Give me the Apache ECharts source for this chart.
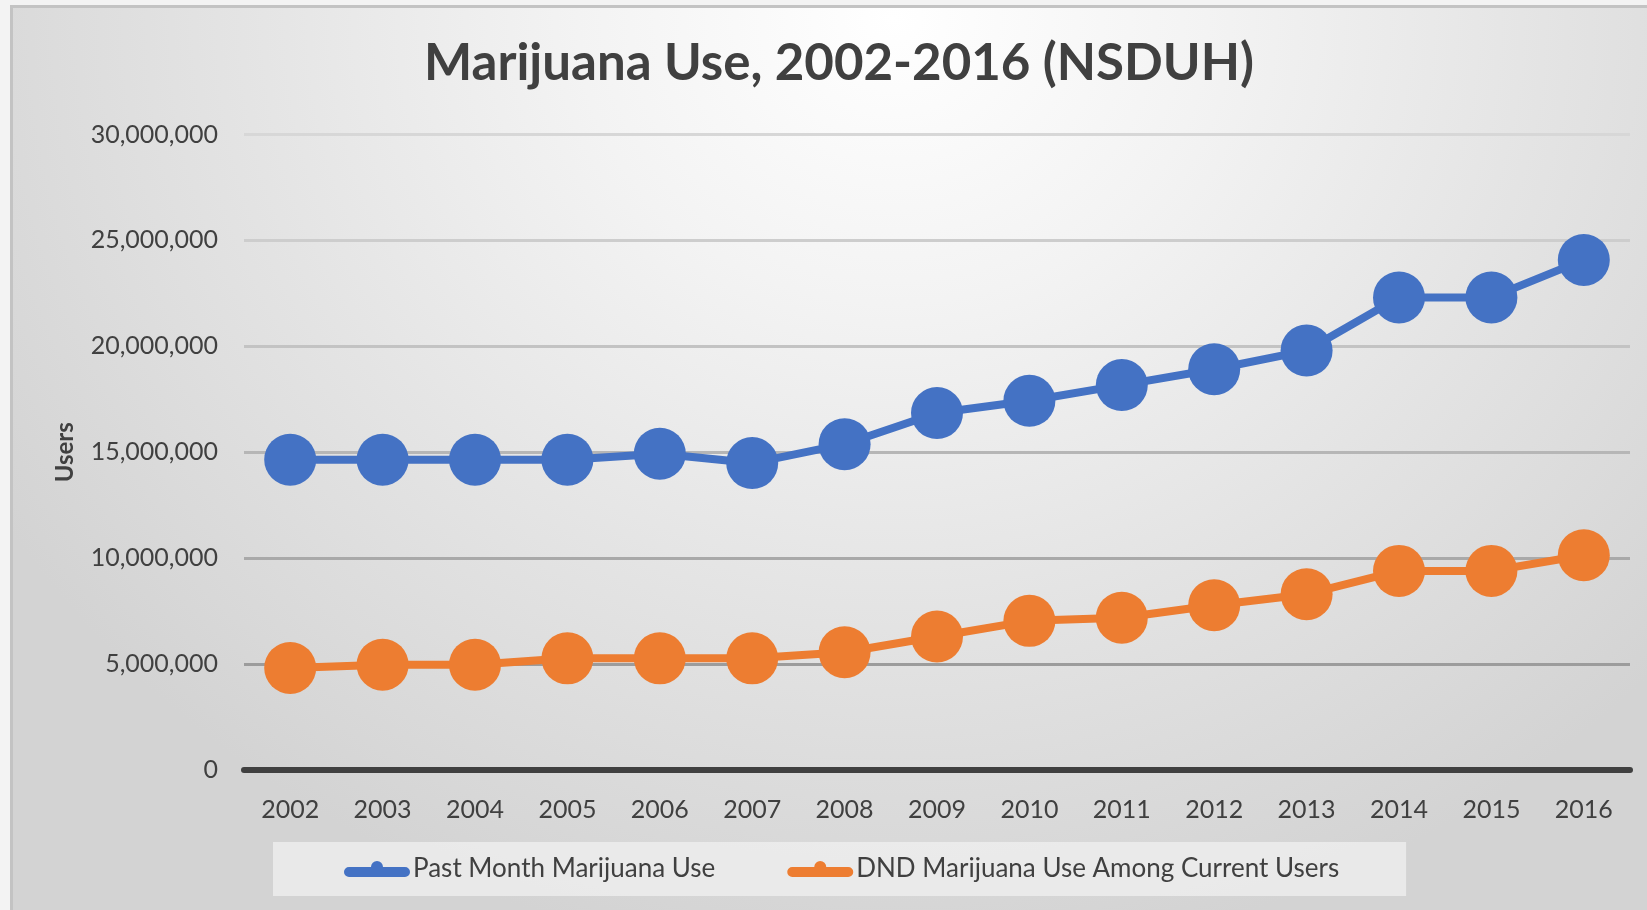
<!DOCTYPE html>
<html>
<head>
<meta charset="utf-8">
<script src="https://cdn.jsdelivr.net/npm/echarts@6/dist/echarts.min.js"></script>
<style>
  html, body { margin: 0; padding: 0; width: 1647px; height: 910px; overflow: hidden; background: #f3f3f3; }
  #frame {
    position: absolute; left: 10px; top: 5px; width: 1660px; height: 920px;
    border-left: 3px solid #c3c3c3; border-top: 3px solid #c3c3c3;
    background: radial-gradient(ellipse 1050px 950px at 880px 10px, #ffffff 0%, #f3f3f3 30%, #e4e4e4 62%, #d3d3d3 100%);
  }
  #chart { position: absolute; left: 0; top: 0; width: 1647px; height: 910px; }
</style>
</head>
<body>
<div id="frame"></div>
<div id="chart"></div>
<script>
// Survey years on the category axis
const years = ['2002', '2003', '2004', '2005', '2006', '2007', '2008', '2009',
               '2010', '2011', '2012', '2013', '2014', '2015', '2016'];

// Past-month marijuana users
const pastMonthUse = [14650000, 14650000, 14650000, 14650000, 14930000, 14490000, 15380000,
                      16850000, 17430000, 18170000, 18920000, 19800000, 22310000, 22310000, 24080000];

// Daily or near-daily use among current users
const dndUse = [4820000, 4970000, 4970000, 5270000, 5270000, 5270000, 5560000,
                6300000, 7040000, 7190000, 7780000, 8300000, 9400000, 9400000, 10140000];

const seriesNames = ['Past Month Marijuana Use', 'DND Marijuana Use Among Current Users'];
const colors = ['#4472C4', '#ED7D31'];

// Legend glyph: thick rounded bar with a small round bump on top
const legendIcon = 'path://M5,6 L27,6 A6,6 0 0 1 39,6 L61,6 A5,5 0 0 1 61,16 L5,16 A5,5 0 0 1 5,6 Z';

const textColor = '#404040';
const font = 'Lato, "Open Sans", sans-serif';

const chart = echarts.init(document.getElementById('chart'), null, { renderer: 'canvas' });

chart.setOption({
  backgroundColor: 'transparent',
  animation: false,
  color: colors,
  title: {
    text: 'Marijuana Use, 2002-2016 (NSDUH)',
    left: 839,
    textAlign: 'center',
    top: 38,
    padding: 0,
    textStyle: { fontFamily: font, fontSize: 51, fontWeight: 'bold', color: textColor }
  },
  legend: {
    left: 273,
    top: 842,
    padding: [14, 67, 14, 71],
    itemGap: 72,
    itemWidth: 66,
    itemHeight: 16,
    backgroundColor: 'rgba(240,240,240,0.75)',
    icon: legendIcon,
    textStyle: { fontFamily: font, fontSize: 26, color: textColor, lineHeight: 26, padding: [0, 0, 0, -2] },
    data: seriesNames
  },
  grid: { left: 244, right: 17, top: 134.5, bottom: 140, containLabel: false },
  xAxis: {
    type: 'category',
    data: years,
    boundaryGap: true,
    axisLine: { show: true, lineStyle: { color: '#404040', width: 6 } },
    axisTick: { show: false },
    axisLabel: { fontFamily: font, fontSize: 25, color: textColor, margin: 27 },
    splitLine: { show: false }
  },
  yAxis: {
    type: 'value',
    min: 0,
    max: 30000000,
    interval: 5000000,
    name: 'Users',
    nameLocation: 'middle',
    nameGap: 167,
    nameTextStyle: { fontFamily: font, fontSize: 24, fontWeight: 'bold', color: textColor },
    axisLine: { show: false },
    axisTick: { show: false },
    axisLabel: {
      fontFamily: font, fontSize: 25, color: textColor, margin: 26,
      formatter: v => v.toLocaleString('en-US')
    },
    splitLine: {
      show: true,
      lineStyle: {
        width: 3,
        color: ['#404040', '#9c9c9c', '#a9a9a9', '#b6b6b6', '#c3c3c3', '#cdcdcd', '#d7d7d7']
      }
    }
  },
  series: [
    {
      name: seriesNames[0],
      type: 'line',
      data: pastMonthUse,
      symbol: 'circle',
      symbolSize: 52,
      lineStyle: { width: 8, color: colors[0] },
      itemStyle: { color: colors[0] }
    },
    {
      name: seriesNames[1],
      type: 'line',
      data: dndUse,
      symbol: 'circle',
      symbolSize: 52,
      lineStyle: { width: 8, color: colors[1] },
      itemStyle: { color: colors[1] }
    }
  ]
});
</script>
</body>
</html>
